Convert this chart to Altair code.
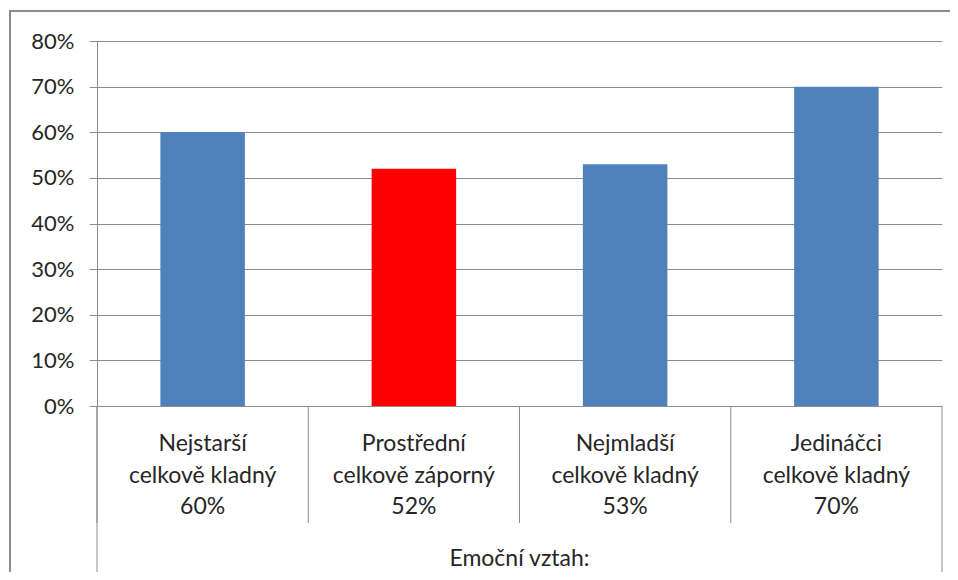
import altair as alt
import pandas as pd

# ---- data ----
skupiny = ["Nejstarší", "Prostřední", "Nejmladší", "Jedináčci"]
vztahy = ["celkově kladný", "celkově záporný", "celkově kladný", "celkově kladný"]
podily = [0.60, 0.52, 0.53, 0.70]
y_ticks = [0.0, 0.1, 0.2, 0.3, 0.4, 0.5, 0.6, 0.7, 0.8]
osa_titulek = ["Emoční vztah:"]

df = pd.DataFrame({"skupina": skupiny, "vztah": vztahy, "podil": podily})
df["label"] = (
    df["skupina"] + "\n" + df["vztah"] + "\n"
    + (df["podil"] * 100).round().astype(int).astype(str) + "%"
)
df["typ"] = df["vztah"].str.split(" ").str[-1]
one = pd.DataFrame({"k": [0]})
title_df = pd.DataFrame({"t": osa_titulek})

W, H = 845, 365
FONT = "Lato"
GRAY = "#8C8C8C"
TXT = "#262626"
STEP = W / len(skupiny)
PAD = {"left": 89, "top": 33, "right": 8, "bottom": 166}

xscale = alt.Scale(paddingInner=0.6, paddingOuter=0.3)
xenc = alt.X("skupina:N", sort=skupiny, scale=xscale, axis=None)

bars = alt.Chart(df).mark_bar().encode(
    x=xenc,
    y=alt.Y("podil:Q", scale=alt.Scale(domain=[0, 0.8], nice=False),
            axis=alt.Axis(values=y_ticks, format=".0%", title=None,
                          grid=True, gridColor=GRAY, domainColor=GRAY,
                          tickColor=GRAY, tickSize=8, labelFont=FONT,
                          labelFontSize=22, labelColor=TXT, labelPadding=15)),
    color=alt.Color("typ:N", scale=alt.Scale(domain=["kladný", "záporný"],
                                             range=["#4F81BD", "#FF0000"]),
                    legend=None),
)

labels = alt.Chart(df).mark_text(
    font=FONT, fontSize=23, lineHeight=31.5, baseline="alphabetic",
    align="center", color=TXT, lineBreak="\n"
).encode(
    x=xenc,
    y=alt.value(410),
    text="label:N",
)

title = alt.Chart(title_df).mark_text(
    font=FONT, fontSize=23, baseline="alphabetic", align="center", color=TXT
).encode(x=alt.value(W / 2), y=alt.value(525), text="t:N")

seps = alt.Chart(df).mark_rule(color=GRAY, xOffset=-STEP / 2).encode(
    x=xenc,
    y=alt.value(H),
    y2=alt.value(H + 117),
)

left_line = alt.Chart(one).mark_rule(color=GRAY).encode(
    x=alt.value(0), y=alt.value(H), y2=alt.value(H + PAD["bottom"]))
right_line = alt.Chart(one).mark_rule(color=GRAY).encode(
    x=alt.value(W), y=alt.value(H), y2=alt.value(H + PAD["bottom"]))

# outer chart-area border (only its top and left edges fall inside the window)
frame_top = alt.Chart(one).mark_rule(color=GRAY, strokeWidth=2).encode(
    x=alt.value(-88), x2=alt.value(W + PAD["right"]), y=alt.value(-30))
frame_left = alt.Chart(one).mark_rule(color=GRAY, strokeWidth=2).encode(
    x=alt.value(-87), y=alt.value(-31), y2=alt.value(H + PAD["bottom"]))

chart = alt.layer(frame_top, frame_left, bars, seps, left_line, right_line,
                  labels, title).properties(
    width=W, height=H,
    padding=PAD,
    autosize=alt.AutoSizeParams(type="none"),
).configure_view(stroke="transparent")

chart.save("out.html", embed_options={"renderer": "svg", "actions": False})
